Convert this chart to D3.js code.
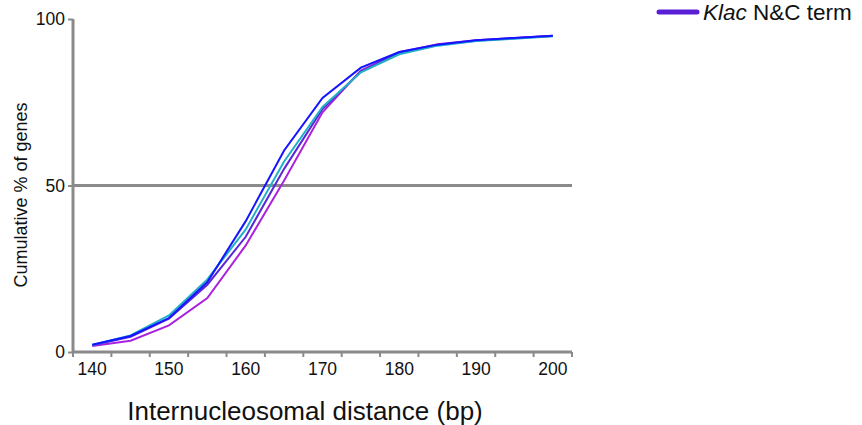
<!DOCTYPE html>
<html>
<head>
<meta charset="utf-8">
<script src="https://cdn.jsdelivr.net/npm/d3@7"></script>
<style>
  body { margin: 0; background: #fff; }
  svg text { font-family: "Liberation Sans", Arial, sans-serif; }
</style>
</head>
<body>
<div id="container"></div>
<script>
// VARIABLES

const width = 862,
      height = 425,
      margin = {top: 19, bottom: 73, left: 73, right: 290}

// DATA

const distances = [140, 145, 150, 155, 160, 165, 170, 175, 180, 185, 190, 195, 200]
const xTickLabels = [140, 150, 160, 170, 180, 190, 200]
const yTickLabels = [0, 50, 100]

const blueSeries    = [2.2, 4.8, 10.2, 21.0, 39.3, 60.5, 76.3, 85.4, 90.1, 92.3, 93.6, 94.3, 95.0]
const cyanSeries    = [2.1, 5.0, 11.0, 21.8, 36.8, 57.2, 73.6, 84.0, 89.4, 92.0, 93.4, 94.1, 94.8]
const violetSeries  = [2.0, 4.6, 10.0, 20.2, 34.6, 55.0, 73.0, 84.2, 89.8, 92.2, 93.5, 94.2, 94.9]
const magentaSeries = [1.8, 3.4, 8.0, 16.2, 32.0, 51.5, 72.0, 84.5, 90.0, 92.4, 93.6, 94.3, 95.0]

const seriesColors = ["#aa22dd", "#5a28d8", "#22b0c8", "#1414ff"]
const seriesList = [magentaSeries, violetSeries, cyanSeries, blueSeries]

const legendLabel = "N&C term"

// SCALES

const xScale = d3.scaleBand()
    .domain(distances)
    .range([margin.left, width - margin.right])

const yScale = d3.scaleLinear()
    .domain([0, 100])
    .range([height - margin.bottom, margin.top])

// ELEMENTS

const mySVG = d3.select("#container")
    .append("svg")
    .attr("width", width)
    .attr("height", height)

const axisColor = "#8a8a8a"

// x axis: ticks sit between categories, labels every other category
const xAxis = d3.axisBottom(xScale)
    .tickSize(0)
    .tickFormat(d => xTickLabels.includes(d) ? d : "")

const xG = mySVG.append("g")
    .attr("transform", `translate(0,${height - margin.bottom})`)
    .call(xAxis)
xG.select(".domain").remove()
xG.selectAll("text")
    .attr("dy", "1.15em")
    .attr("font-size", 17.5)
    .attr("fill", "#111")

const tickEdges = distances.map(d => xScale(d)).concat([xScale.range()[1]])
xG.selectAll(".edge")
    .data(tickEdges)
    .join("line")
    .attr("x1", d => d).attr("x2", d => d)
    .attr("y1", 0).attr("y2", 5)
    .attr("stroke", axisColor)
    .attr("stroke-width", 2)

xG.append("line")
    .attr("x1", margin.left - 1).attr("x2", width - margin.right)
    .attr("stroke", axisColor)
    .attr("stroke-width", 3)

// y axis
const yAxis = d3.axisLeft(yScale)
    .tickValues(yTickLabels)
    .tickSize(5)

const yG = mySVG.append("g")
    .attr("transform", `translate(${margin.left},0)`)
    .call(yAxis)
yG.select(".domain")
    .attr("stroke", axisColor)
    .attr("stroke-width", 3)
    .attr("d", `M0,${yScale(100)}V${yScale(0)}`)
yG.selectAll(".tick line")
    .attr("stroke", axisColor)
    .attr("stroke-width", 2)
yG.selectAll("text")
    .attr("font-size", 17.5)
    .attr("fill", "#111")
    .attr("x", -8)

// 50% reference line
mySVG.append("line")
    .attr("x1", margin.left)
    .attr("x2", width - margin.right)
    .attr("y1", yScale(50))
    .attr("y2", yScale(50))
    .attr("stroke", axisColor)
    .attr("stroke-width", 3)

// LINES

const line = d3.line()
    .x((d, i) => xScale(distances[i]) + xScale.bandwidth() / 2)
    .y(d => yScale(d))

mySVG.selectAll(".series")
    .data(seriesList)
    .join("path")
    .attr("class", "series")
    .attr("d", d => line(d))
    .attr("fill", "none")
    .attr("stroke", (d, i) => seriesColors[i])
    .attr("stroke-width", 2)

// AXIS TITLES

mySVG.append("text")
    .attr("x", 305)
    .attr("y", 420)
    .attr("text-anchor", "middle")
    .attr("font-size", 26)
    .attr("fill", "#111")
    .text("Internucleosomal distance (bp)")

mySVG.append("text")
    .attr("transform", `translate(27,195) rotate(-90)`)
    .attr("text-anchor", "middle")
    .attr("font-size", 18)
    .attr("fill", "#111")
    .text("Cumulative % of genes")

// LEGEND

const legend = mySVG.append("g")
    .attr("transform", "translate(659,12)")

legend.append("line")
    .attr("x1", 0).attr("x2", 38)
    .attr("stroke", "#5a1ed6")
    .attr("stroke-width", 5)
    .attr("stroke-linecap", "round")

const legendText = legend.append("text")
    .attr("x", 44)
    .attr("y", 8)
    .attr("font-size", 22.5)
    .attr("fill", "#111")
legendText.append("tspan").attr("font-style", "italic").text("Klac")
legendText.append("tspan").text(" " + legendLabel)
</script>
</body>
</html>
